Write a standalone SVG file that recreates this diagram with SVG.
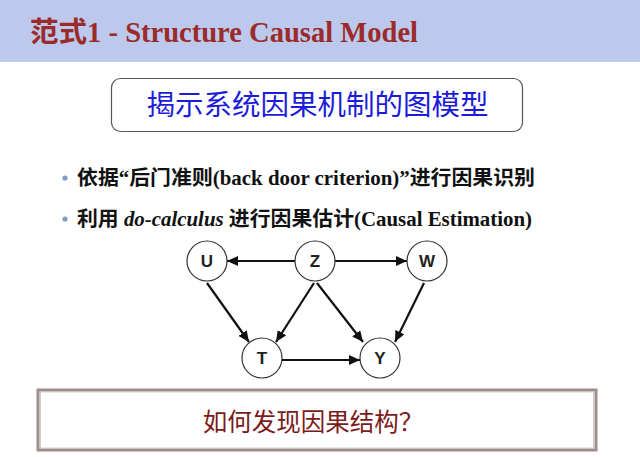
<svg xmlns="http://www.w3.org/2000/svg" width="640" height="457" viewBox="0 0 640 457">
<style>
.t{font-family:"Liberation Serif","Noto Sans CJK SC",serif;font-weight:bold}
.b{font-family:"Liberation Serif","Noto Sans CJK SC",serif;font-weight:bold;font-size:20.5px;fill:#111}
.dot{fill:#7f9cc4}
.n circle{fill:#fff;stroke:#333;stroke-width:1.2}
.n text{font-family:"Liberation Sans",Arial,sans-serif;font-weight:bold;font-size:17px;fill:#222;text-anchor:middle}
.e line{stroke:#111;stroke-width:2.2;marker-end:url(#ah)}
</style>
<defs>
<marker id="ah" markerUnits="userSpaceOnUse" markerWidth="12" markerHeight="10" refX="11" refY="5" orient="auto">
<path d="M0,0 L11,5 L0,10 z" fill="#111"/>
</marker>
</defs>
<rect x="0" y="0" width="640" height="62" fill="#bdc9ec"/>
<text class="t" x="30" y="42" font-size="28.5" fill="#9b2b2b" textLength="388" lengthAdjust="spacingAndGlyphs">范式1 - Structure Causal Model</text>
<g id="box-top">
<rect x="111.5" y="78.5" width="411" height="53" rx="9" fill="#fff" stroke="#555" stroke-width="1.2"/>
<text x="317.5" y="115" font-family="'Noto Sans CJK SC',sans-serif" font-size="28.5" fill="#1c1cd8" text-anchor="middle">揭示系统因果机制的图模型</text>
</g>
<circle class="dot" cx="65" cy="178" r="2.6"/>
<text class="b" x="77" y="185" textLength="458" lengthAdjust="spacingAndGlyphs">依据“后门准则(back door criterion)”进行因果识别</text>
<circle class="dot" cx="65" cy="219" r="2.6"/>
<text class="b" x="77" y="226" textLength="455" lengthAdjust="spacingAndGlyphs">利用 <tspan font-style="italic">do-calculus</tspan> 进行因果估计(Causal Estimation)</text>
<g id="edges" class="e">
<line x1="295" y1="261" x2="227" y2="261"/>
<line x1="335" y1="261" x2="407" y2="261"/>
<line x1="207" y1="283" x2="249" y2="342"/>
<line x1="314" y1="283" x2="276" y2="342"/>
<line x1="317" y1="283" x2="363" y2="342"/>
<line x1="424" y1="283" x2="395" y2="342"/>
<line x1="282" y1="360" x2="360" y2="360"/>
</g>
<g id="U" class="n"><circle cx="207" cy="261" r="20"/><text x="207" y="267">U</text></g>
<g id="Z" class="n"><circle cx="315" cy="261" r="20"/><text x="315" y="267">Z</text></g>
<g id="W" class="n"><circle cx="427" cy="261" r="20"/><text x="427" y="267">W</text></g>
<g id="T" class="n"><circle cx="262" cy="358" r="20"/><text x="262" y="364">T</text></g>
<g id="Y" class="n"><circle cx="380" cy="358" r="20"/><text x="380" y="364">Y</text></g>
<g id="box-bottom">
<rect x="38" y="390" width="558" height="60" fill="#fff" stroke="#9e8e8e" stroke-width="3"/>
<rect x="40.5" y="392" width="553" height="56" fill="none" stroke="#c9bfbf" stroke-width="0.8"/>
<text x="313" y="431" font-family="'Noto Sans CJK SC',sans-serif" font-size="24.5" fill="#7c1a1a" text-anchor="middle">如何发现因果结构？</text>
</g>
</svg>
